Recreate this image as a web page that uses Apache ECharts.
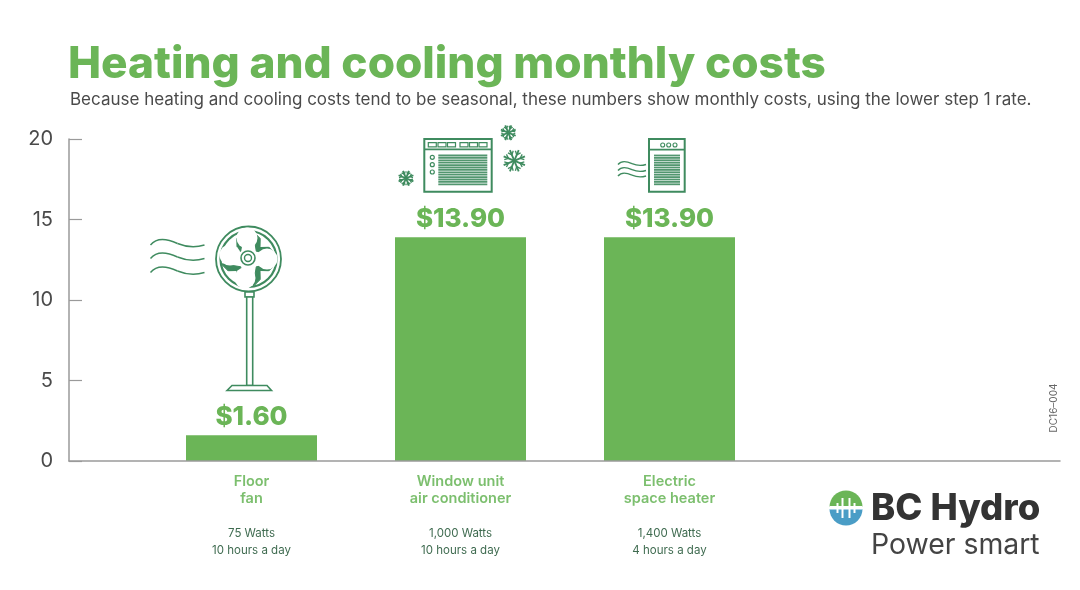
<!DOCTYPE html>
<html><head><meta charset="utf-8">
<style>html,body{margin:0;padding:0;background:#fff}#c{width:1080px;height:590px}</style>
<script src="https://cdn.jsdelivr.net/npm/echarts@6/dist/echarts.min.js"></script>
</head><body><div id="c"></div>
<script>
const categories = ['Floor\nfan', 'Window unit\nair conditioner', 'Electric\nspace heater'];
const costs = [1.6, 13.9, 13.9];
const watts = ['75 Watts', '1,000 Watts', '1,400 Watts'];
const hours = ['10 hours a day', '10 hours a day', '4 hours a day'];
const yTicks = [0, 5, 10, 15, 20];

const GREEN = '#6bb557', ICON = '#3f8b5f', GREY = '#4a4a4a', AXIS = '#9a9a9a';
const FONT = 'Inter, "Noto Sans", sans-serif';
const g = [];
const S = (extra) => Object.assign({ stroke: ICON, fill: 'none', lineWidth: 1.6 }, extra);
const add = (type, shape, style, z) => g.push({ type, shape, style: S(style), z: z || 10, silent: true });
const poly = (points, style, z) => add('polygon', { points }, style, z);
const rect = (x, y, width, height, style) => add('rect', { x, y, width, height }, style);
const circle = (cx, cy, r, style, z) => add('circle', { cx, cy, r }, style, z);
const line = (x1, y1, x2, y2, style) => add('line', { x1, y1, x2, y2 }, style);

function grille(x, y, w, h, step) {
  for (let yy = y; yy <= y + h; yy += step) line(x, yy, x + w, yy, { lineWidth: 1.8, opacity: 0.9 });
}
function flake(cx, cy, r) {
  for (let k = 0; k < 4; k++) {
    const a = k * Math.PI / 4 + Math.PI / 8, c = Math.cos(a), s = Math.sin(a);
    line(cx - r * c, cy - r * s, cx + r * c, cy + r * s, { lineWidth: 1.8 });
    [1, -1].forEach(d => {
      const mx = cx + d * r * 0.55 * c, my = cy + d * r * 0.55 * s;
      const b = r * 0.38;
      line(mx, my, mx + d * b * Math.cos(a + 0.7), my + d * b * Math.sin(a + 0.7), { lineWidth: 1.3 });
      line(mx, my, mx + d * b * Math.cos(a - 0.7), my + d * b * Math.sin(a - 0.7), { lineWidth: 1.3 });
    });
  }
}
function wave(x0, y0, w, amp) {
  add('bezierCurve', { x1: x0, y1: y0, cpx1: x0 + w * 0.12, cpy1: y0 - amp * 1.6, cpx2: x0 + w * 0.3, cpy2: y0 - amp * 1.3, x2: x0 + w * 0.5, y2: y0 - amp * 0.3 }, { lineWidth: 1.4 });
  add('bezierCurve', { x1: x0 + w * 0.5, y1: y0 - amp * 0.3, cpx1: x0 + w * 0.68, cpy1: y0 + amp * 0.5, cpx2: x0 + w * 0.85, cpy2: y0 + amp * 0.5, x2: x0 + w, y2: y0 }, { lineWidth: 1.4 });
}

/* fan */
[245, 258.5, 272.5].forEach(y => wave(150.5, y, 54, 5));
const fx = 248.5, fy = 259;
circle(fx, fy, 32.5, { lineWidth: 1.8 });
circle(fx, fy, 28, { lineWidth: 2.2 });
[45, 135, 225, 315].forEach(deg => {
  const a = deg * Math.PI / 180;
  const pt = (r, off) => [fx + r * Math.cos(a + off), fy + r * Math.sin(a + off)];
  poly([pt(11, 0), pt(28, 0.62), pt(28, -0.62)], { fill: ICON, lineWidth: 1 }, 10);
  poly([pt(17, 0), pt(24.5, 0.26), pt(24.5, -0.26)], { fill: '#fff', stroke: 'none' }, 11);
});
[[247, 238], [230, 255], [245, 278], [267, 259]].forEach(b => circle(b[0], b[1], 10.5, { fill: '#fff', stroke: 'none' }, 12));
circle(fx - 0.5, fy - 1, 7, { fill: '#fff', lineWidth: 1.6 }, 13);
circle(fx - 0.5, fy - 1, 3.5, { lineWidth: 1.4 }, 13);
rect(245, 292, 9, 5, { fill: '#fff' });
rect(246.7, 297, 6, 88.5, { fill: '#fff' });
poly([[227, 390.5], [232, 385.5], [267, 385.5], [271.5, 390.5]], { fill: '#fff' });

/* air conditioner */
rect(424.3, 139, 67.4, 52.7, { lineWidth: 2 });
line(424.3, 149.3, 491.7, 149.3, { lineWidth: 1.8 });
[428.3, 438, 447.5, 460, 469.5, 479].forEach(x => rect(x, 142.6, 8, 4.2, { lineWidth: 1.2 }));
[157.3, 164.7, 172].forEach(y => circle(432.3, y, 2, { lineWidth: 1.2 }));
grille(438.3, 155.5, 49, 30, 2.4);
flake(508.3, 132.7, 8);
flake(514.3, 160.7, 11.5);
flake(406, 178.3, 8);

/* space heater */
rect(649, 139, 35.7, 52.7, { lineWidth: 2 });
line(649, 149.7, 684.7, 149.7, { lineWidth: 1.8 });
[662.7, 668.7, 675].forEach(x => circle(x, 145, 2, { lineWidth: 1.1 }));
grille(654, 155.5, 26, 31, 2.4);
[164.5, 170.5, 176].forEach(y => wave(618, y, 28, 2.6));

/* logo */
const lx = 846, ly = 508, lr = 16.5;
add('sector', { cx: lx, cy: ly - 1, r: lr, startAngle: Math.PI, endAngle: 2 * Math.PI, clockwise: true }, { fill: GREEN, stroke: 'none' });
add('sector', { cx: lx, cy: ly + 1, r: lr, startAngle: 0, endAngle: Math.PI, clockwise: true }, { fill: '#4a9dc6', stroke: 'none' });
rect(lx - lr, ly - 2, lr * 2, 3.5, { fill: '#fff', stroke: 'none' });
[[-3.5, 10], [3.5, 10], [-8.5, 5], [8.5, 5]].forEach(v => line(lx + v[0], ly - v[1], lx + v[0], ly + v[1], { stroke: '#fff', lineWidth: 2 }));

const txt = (text, x, y, font, fill, align, rotation) => g.push({
  type: 'text', x, y, rotation: rotation || 0, silent: true, z: 10,
  style: { text, font, fill, textAlign: align || 'left', textVerticalAlign: 'middle' }
});
txt('BC Hydro', 871, 509, `800 36.5px ${FONT}`, '#333333');
txt('Power smart', 871, 545, `400 28.4px ${FONT}`, '#444444');
txt('DC16–004', 1054, 408, `400 10px ${FONT}`, '#666666', 'center', Math.PI / 2);

const chart = echarts.init(document.getElementById('c'), null, { renderer: 'canvas' });
chart.setOption({
  backgroundColor: '#fff',
  animation: false,
  title: [
    { text: 'Heating and cooling monthly costs', left: 63, top: 38,
      textStyle: { fontFamily: FONT, fontWeight: 800, fontSize: 44.2, color: GREEN } },
    { text: 'Because heating and cooling costs tend to be seasonal, these numbers show monthly costs, using the lower step 1 rate.', left: 65, top: 86,
      textStyle: { fontFamily: FONT, fontWeight: 400, fontSize: 17, color: GREY } }
  ],
  grid: [
    { left: 147, width: 627, top: 139, height: 322 },
    { left: 69, width: 991, top: 139, height: 322 }
  ],
  xAxis: [
    { type: 'category', gridIndex: 0, data: categories,
      axisLine: { show: false }, axisTick: { show: false },
      axisLabel: {
        margin: 12, interval: 0,
        formatter: (v, i) => {
          const p = v.split('\n');
          return `{n|${p[0]}}\n{n|${p[1]}}\n{s|}\n{d|${watts[i]}}\n{d|${hours[i]}}`;
        },
        rich: {
          n: { fontFamily: FONT, fontSize: 14.5, fontWeight: 600, color: '#7cbf6e', lineHeight: 17.3, align: 'center' },
          s: { lineHeight: 17.3, fontSize: 11 },
          d: { fontFamily: FONT, fontSize: 11.5, color: '#3f6b50', lineHeight: 17.3, align: 'center' }
        }
      } },
    { type: 'value', gridIndex: 1, min: 0, max: 1, position: 'bottom', z: 5,
      axisLine: { show: true, onZero: false, lineStyle: { color: AXIS, width: 1.5 } },
      axisTick: { show: false }, axisLabel: { show: false }, splitLine: { show: false } }
  ],
  yAxis: [
    { type: 'value', gridIndex: 0, min: 0, max: 20, interval: 5, show: false },
    { type: 'value', gridIndex: 1, min: 0, max: 20, interval: 5, position: 'left',
      axisLine: { show: true, lineStyle: { color: AXIS, width: 1.5 } },
      axisTick: { show: true, inside: true, length: 13, lineStyle: { color: AXIS, width: 1.2 } },
      splitLine: { show: false },
      axisLabel: { margin: 16, fontFamily: FONT, fontSize: 20, color: GREY, customValues: yTicks } }
  ],
  series: [{
    type: 'bar', xAxisIndex: 0, yAxisIndex: 0, data: costs, barWidth: 131,
    itemStyle: { color: GREEN },
    label: { show: true, position: 'top', distance: 5, fontFamily: FONT, fontWeight: 800, fontSize: 26, color: GREEN,
      formatter: p => '$' + p.value.toFixed(2) }
  }],
  graphic: g
});
</script></body></html>
